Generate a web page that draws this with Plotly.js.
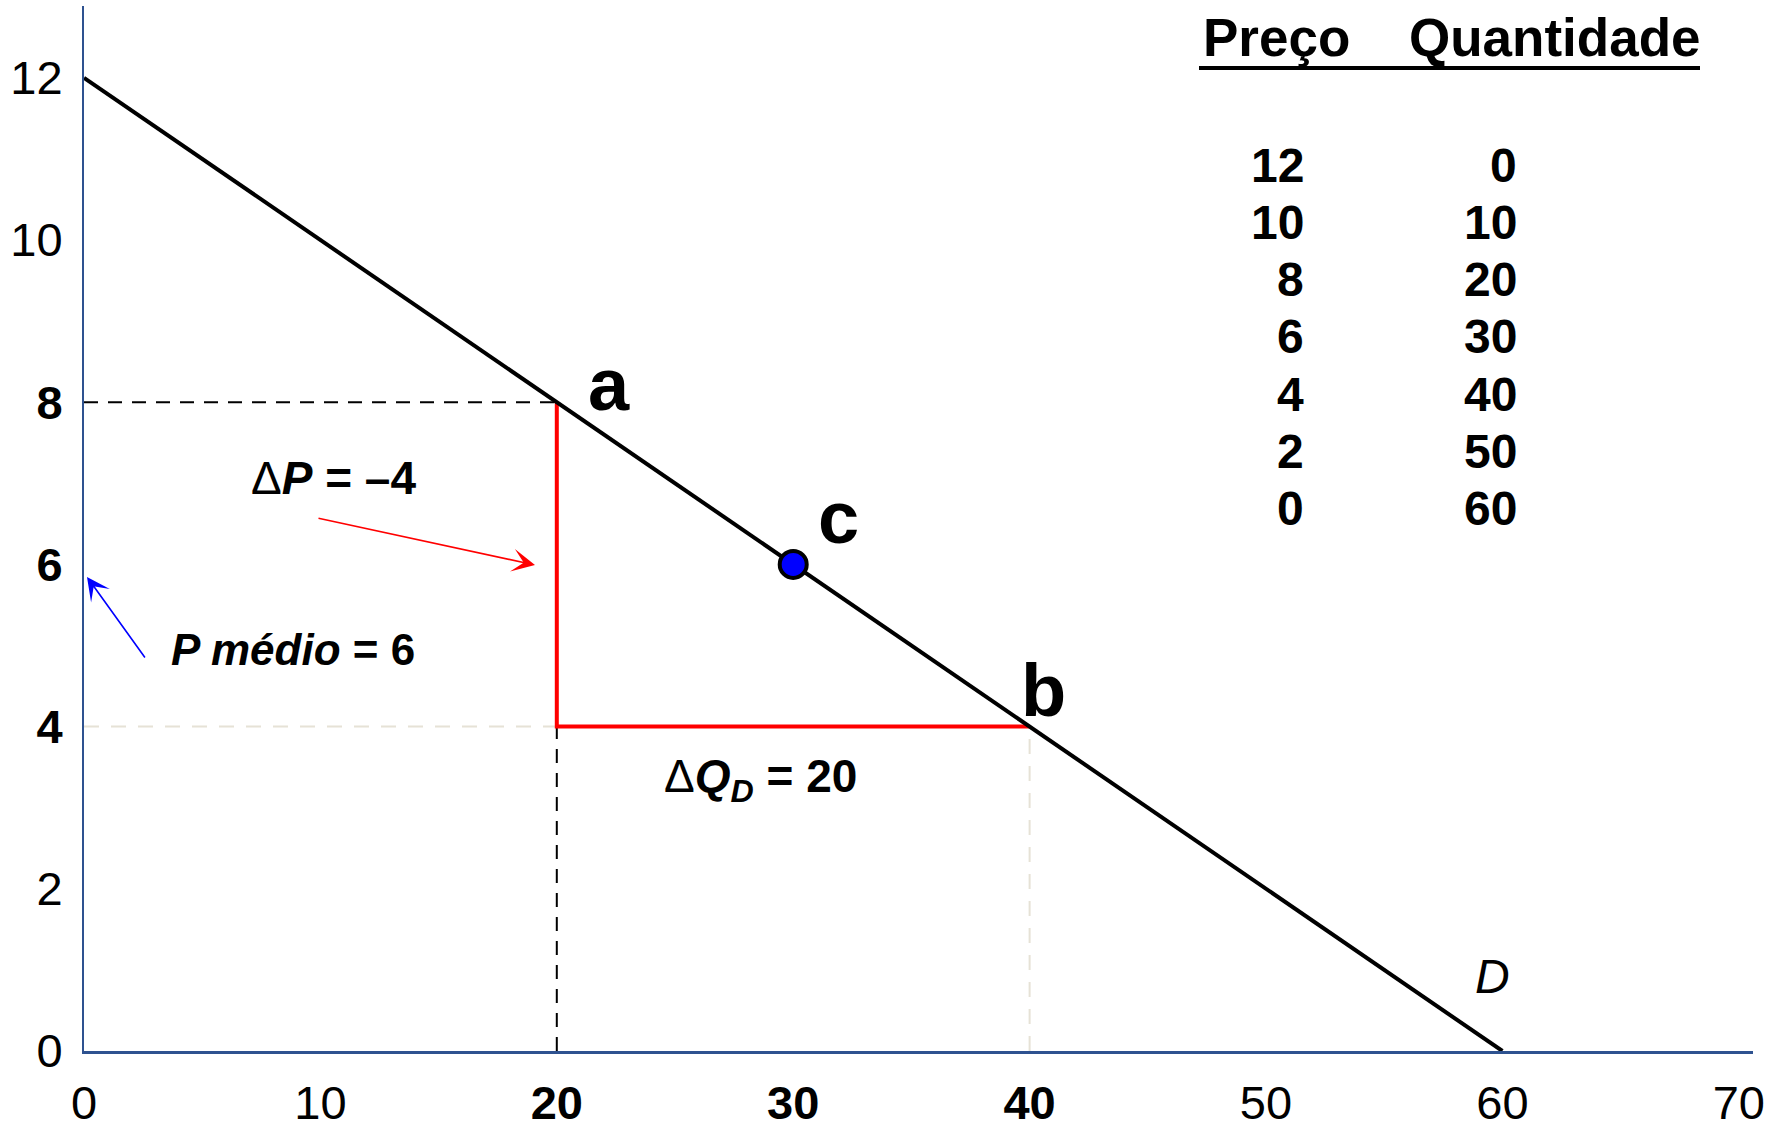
<!DOCTYPE html>
<html>
<head>
<meta charset="utf-8">
<script src="https://cdn.plot.ly/plotly-3.0.1.min.js"></script>
<style>html,body{margin:0;padding:0;background:#fff;}#chart{width:1768px;height:1132px;}</style>
</head>
<body>
<div id="chart"></div>
<script>
// ---- data ----
const preco = [12, 10, 8, 6, 4, 2, 0];
const quantidade = [0, 10, 20, 30, 40, 50, 60];
const pontoA = [20, 8];
const pontoB = [40, 4];
const pontoC = [30, 6];
const xTickVals = [0, 10, 20, 30, 40, 50, 60, 70];
const xTickText = ['0', '10', '<b>20</b>', '<b>30</b>', '<b>40</b>', '50', '60', '70'];
const yTickVals = [0, 2, 4, 6, 8, 10, 12];
const yTickText = ['0', '2', '<b>4</b>', '<b>6</b>', '<b>8</b>', '10', '12'];
const cabecalho = ['Preço', 'Quantidade'];

// ---- layout helpers (pixel -> data, for placing text) ----
const W = 1768, H = 1132;
const L = 84, R = 1753, T = 6, B = 1051;
const XMIN = 0, XMAX = 70.6, YMIN = 0, YMAX = 12.885;
const xd = px => XMIN + (px - L) / (R - L) * (XMAX - XMIN);
const yd = py => YMIN + (B - py) / (B - T) * (YMAX - YMIN);

const FONT = 'Liberation Sans, Arial, sans-serif';
const AXC = '#2E5290';

const traces = [];
// black dashed guides for point a
traces.push({x: [0, pontoA[0]], y: [pontoA[1], pontoA[1]], mode: 'lines',
  line: {color: '#000', width: 2, dash: '14px,10px'}, hoverinfo: 'skip'});
traces.push({x: [pontoA[0], pontoA[0]], y: [0, pontoB[1]], mode: 'lines',
  line: {color: '#000', width: 2, dash: '14px,10px'}, hoverinfo: 'skip'});
// light dashed guides for point b
traces.push({x: [0, pontoA[0]], y: [pontoB[1], pontoB[1]], mode: 'lines',
  line: {color: '#E6E2D6', width: 2, dash: '15px,12px'}, hoverinfo: 'skip'});
traces.push({x: [pontoB[0], pontoB[0]], y: [0, pontoB[1]], mode: 'lines',
  line: {color: '#E6E2D6', width: 2, dash: '15px,12px'}, hoverinfo: 'skip'});
// red triangle legs
traces.push({x: [pontoA[0], pontoA[0], pontoB[0]], y: [pontoA[1], pontoB[1], pontoB[1]], mode: 'lines',
  line: {color: '#FF0000', width: 4}, hoverinfo: 'skip'});
// demand curve
traces.push({x: quantidade, y: preco, mode: 'lines',
  line: {color: '#000', width: 4}, hoverinfo: 'skip'});
// midpoint c
traces.push({x: [pontoC[0]], y: [pontoC[1]], mode: 'markers',
  marker: {color: '#0000FF', size: 27, line: {color: '#000', width: 4}}, hoverinfo: 'skip'});

const ann = [];
const txt = (text, x, y, size, opts) => Object.assign({text: text, x: x, y: y, xref: 'x', yref: 'y',
  showarrow: false, font: {family: FONT, size: size, color: '#000'}}, opts || {});

ann.push(txt('<b>a</b>', xd(609), yd(384), 74));
ann.push(txt('<b>b</b>', xd(1043), yd(690), 74));
ann.push(txt('<b>c</b>', xd(838), yd(517), 74));
ann.push(txt('<i>D</i>', xd(1492), yd(976), 48));
ann.push(txt('Δ<b><i>P</i> = –4</b>', xd(249), yd(478), 46, {xanchor: 'left'}));
ann.push(txt('<b><i>P médio</i> = 6</b>', xd(169), yd(649), 44, {xanchor: 'left'}));
ann.push(txt('Δ<b><i>Q<sub>D</sub></i> = 20</b>', xd(662), yd(779), 46, {xanchor: 'left'}));

// table header
ann.push(txt('<b>' + cabecalho[0] + '</b>', xd(1201), yd(37), 53, {xanchor: 'left'}));
ann.push(txt('<b>' + cabecalho[1] + '</b>', xd(1407), yd(37), 53, {xanchor: 'left'}));
// table rows
for (let i = 0; i < preco.length; i++) {
  const py = 165 + i * 57.3;
  ann.push(txt('<b>' + preco[i] + '</b>', xd(1306), yd(py), 48, {xanchor: 'right'}));
  ann.push(txt('<b>' + quantidade[i] + '</b>', xd(1519), yd(py), 48, {xanchor: 'right'}));
}

// arrows
ann.push({text: '', showarrow: true, xref: 'x', yref: 'y', axref: 'x', ayref: 'y',
  x: xd(535), y: yd(565), ax: xd(317), ay: yd(518),
  arrowhead: 3, arrowsize: 2.4, arrowwidth: 1.6, arrowcolor: '#FF0000', standoff: 0});
ann.push({text: '', showarrow: true, xref: 'x', yref: 'y', axref: 'x', ayref: 'y',
  x: xd(87), y: yd(577), ax: xd(146), ay: yd(659),
  arrowhead: 3, arrowsize: 2.4, arrowwidth: 1.6, arrowcolor: '#0000FF', standoff: 0});

const shapes = [
  {type: 'line', xref: 'x', yref: 'y', x0: xd(1199), x1: xd(1700), y0: yd(68), y1: yd(68),
   line: {color: '#000', width: 4}}
];

const layout = {
  width: W, height: H,
  margin: {l: L, r: W - R, t: T, b: H - B, pad: 0},
  paper_bgcolor: '#fff', plot_bgcolor: '#fff',
  showlegend: false,
  font: {family: FONT, color: '#000'},
  xaxis: {range: [XMIN, XMAX], tickvals: xTickVals, ticktext: xTickText, showgrid: false, zeroline: false,
    showline: true, linecolor: AXC, linewidth: 3, ticks: '', ticklabelstandoff: 9,
    tickfont: {family: FONT, size: 47, color: '#000'}, fixedrange: true},
  yaxis: {range: [YMIN, YMAX], tickvals: yTickVals, ticktext: yTickText, showgrid: false, zeroline: false,
    showline: true, linecolor: AXC, linewidth: 2, ticks: '', ticklabelstandoff: 10,
    tickfont: {family: FONT, size: 47, color: '#000'}, fixedrange: true},
  annotations: ann,
  shapes: shapes
};

Plotly.newPlot('chart', traces, layout, {staticPlot: true, displayModeBar: false});
</script>
</body>
</html>
